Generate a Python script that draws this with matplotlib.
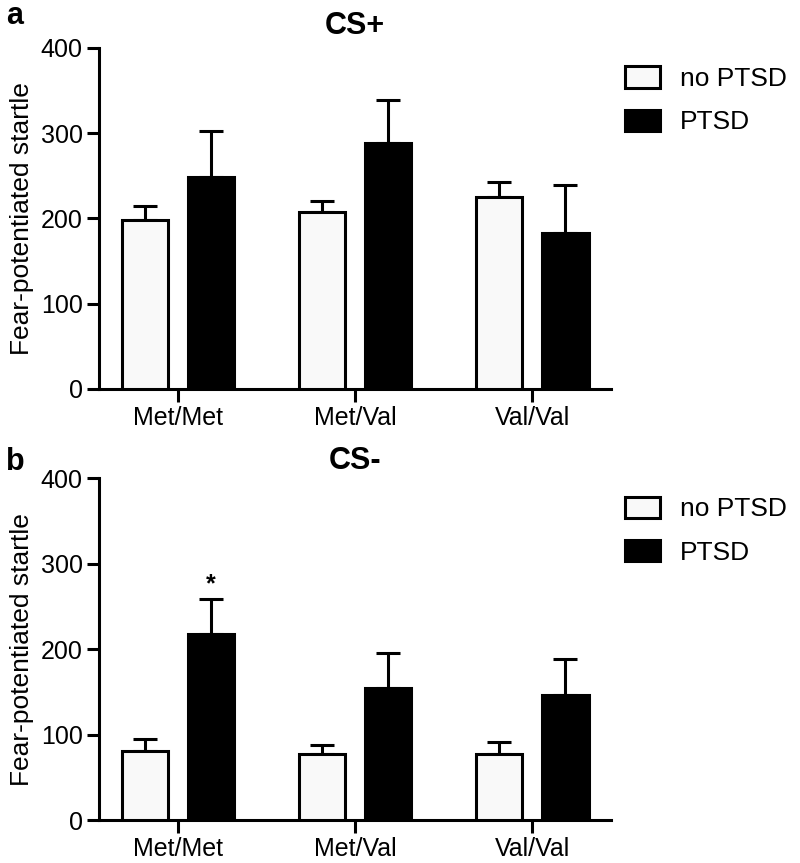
import matplotlib
matplotlib.use("Agg")
import matplotlib.pyplot as plt
import numpy as np
from matplotlib.patches import Patch

plt.rcParams['font.family'] = ['Liberation Sans', 'DejaVu Sans']

genotypes = ["Met/Met", "Met/Val", "Val/Val"]
groups = ["no PTSD", "PTSD"]

csplus_noptsd = [198, 208, 225]
csplus_noptsd_err = [17, 13, 18]
csplus_ptsd = [249, 288, 183]
csplus_ptsd_err = [54, 51, 56]

csminus_noptsd = [81, 77, 77]
csminus_noptsd_err = [14, 11, 14]
csminus_ptsd = [218, 155, 146]
csminus_ptsd_err = [41, 41, 43]

titles = ["CS+", "CS-"]
panel_labels = ["a", "b"]
sig_marks = [[None, None, None], ["*", None, None]]

fig = plt.figure(figsize=(8.0, 8.63), dpi=100)
ax_a = fig.add_axes([0.124, 0.5493, 0.640, 0.3951])
ax_b = fig.add_axes([0.124, 0.0498, 0.640, 0.3960])

data = [
    (csplus_noptsd, csplus_noptsd_err, csplus_ptsd, csplus_ptsd_err),
    (csminus_noptsd, csminus_noptsd_err, csminus_ptsd, csminus_ptsd_err),
]

x = np.arange(len(genotypes))
w = 0.26
off = 0.187
lw = 2.2

for i, ax in enumerate([ax_a, ax_b]):
    n, ne, p, pe = data[i]
    ax.bar(x - off, n, width=w, color="#f9f9f9", edgecolor="black", linewidth=lw, zorder=3)
    ax.bar(x + off, p, width=w, color="black", edgecolor="black", linewidth=lw, zorder=3)
    ax.errorbar(x - off, n, yerr=[np.zeros(3), ne], fmt="none", ecolor="black",
                elinewidth=lw, capsize=8.5, capthick=lw, zorder=2)
    ax.errorbar(x + off, p, yerr=[np.zeros(3), pe], fmt="none", ecolor="black",
                elinewidth=lw, capsize=8.5, capthick=lw, zorder=2)
    for j, m in enumerate(sig_marks[i]):
        if m:
            ax.text(x[j] + off, p[j] + pe[j] + 3, m, ha="center", va="bottom",
                    fontsize=18, fontweight="bold")
    ax.set_xlim(-0.445, 2.445)
    ax.set_ylim(0, 400)
    ax.set_yticks([0, 100, 200, 300, 400])
    ax.set_xticks(x)
    ax.set_xticklabels(genotypes)
    for s in ["top", "right"]:
        ax.spines[s].set_visible(False)
    for s in ["left", "bottom"]:
        ax.spines[s].set_linewidth(lw)
    ax.tick_params(axis="both", direction="out", width=lw, labelsize=18, length=9, pad=3)
    ax.set_ylabel("Fear-potentiated startle", fontsize=19, labelpad=5)
    ax.set_title(titles[i], fontsize=22, fontweight="bold", pad=10 if i == 0 else 7)
    handles = [Patch(facecolor="#f9f9f9", edgecolor="black", linewidth=lw),
               Patch(facecolor="black", edgecolor="black", linewidth=lw)]
    ax.legend(handles, groups, loc="upper left", bbox_to_anchor=(0.99, 1.0),
              frameon=False, fontsize=19, handlelength=1.35, handleheight=0.85,
              handletextpad=0.75, labelspacing=0.7, borderaxespad=0.3)

fig.text(0.008, 0.999, panel_labels[0], fontsize=22, fontweight="bold",
         va="top", ha="left")
fig.text(0.008, 1 - 470 / 863, panel_labels[1], fontsize=22, fontweight="bold",
         va="baseline", ha="left")

fig.savefig("out.png", dpi=100, facecolor="white")
